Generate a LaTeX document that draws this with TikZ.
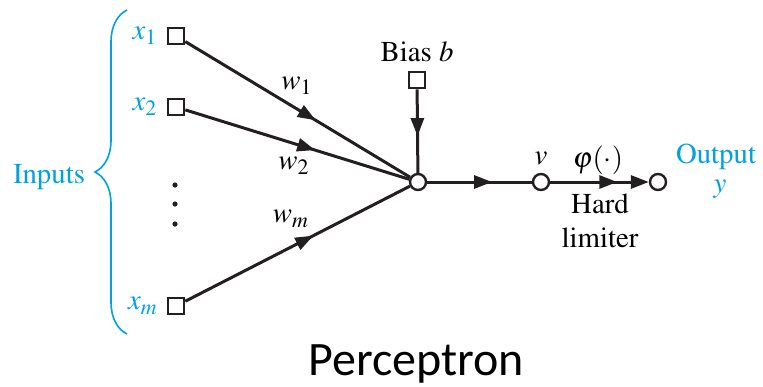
\documentclass[tikz,border=0pt]{standalone}
\usepackage{mathptmx}
\usepackage{fontspec}
\newfontfamily\calibri{Carlito}
\newcommand{\timesf}{\fontencoding{T1}\fontfamily{ptm}\selectfont}
\usetikzlibrary{arrows.meta,decorations.markings,decorations.pathreplacing}
\definecolor{inblue}{RGB}{0,160,227}
\definecolor{ink}{RGB}{35,31,32}

\tikzset{
  insq/.style={draw=ink, line width=1.3pt, fill=white, minimum size=8pt, inner sep=0pt},
  junc/.style={circle, draw=ink, line width=1.2pt, fill=white, minimum size=8pt, inner sep=0pt},
  link/.style={color=ink, line width=1.5pt},
  midarrow/.style={postaction={decorate}, decoration={markings,
      mark=at position #1 with {\arrow{Triangle[length=9pt,width=6.5pt]}}}},
}

\begin{document}
\begin{tikzpicture}[x=0.5pt, y=-0.5pt, font=\timesf\fontsize{14.4}{17}\selectfont]
    \useasboundingbox (0,0) rectangle (763,386);

    % inputs
    \node[insq] (x1) at (176,36) {};
    \node[insq] (x2) at (176,107) {};
    \node[insq] (xm) at (176,306) {};
    \foreach \y [count=\i] in {185,204,224} {
        \node[circle, fill=ink, inner sep=0pt, minimum size=2.6pt] (dot\i) at (175,\y) {};
    }
    \node[text=inblue] (lx1) at (145,36) {$x_1$};
    \node[text=inblue] (lx2) at (145,107) {$x_2$};
    \node[text=inblue] (lxm) at (143,306) {$x_m$};

    % brace
    \draw[inblue, line width=0.8pt, decorate, decoration={brace, amplitude=16pt}] (127,334) -- (127,10);
    \node[text=inblue] (inputs) at (49,177) {Inputs};

    % neuron
    \node[junc] (sum) at (418,182) {};
    \node[insq] (bias) at (417,80) {};
    \node (lbias) at (417,52) {Bias $b$};
    \node[junc] (v) at (541,182) {};
    \node[junc] (out) at (658,182) {};

    % weights
    \draw[link, midarrow=0.58] (x1) -- (sum);
    \draw[link, midarrow=0.58] (x2) -- (sum);
    \draw[link, midarrow=0.57] (xm) -- (sum);
    \draw[link, midarrow=0.56] (bias) -- (sum);
    \node (w1) at (297,86) {$w_1$};
    \node (w2) at (294,166) {$w_2$};
    \node (wm) at (291,219) {$w_m$};

    % output
    \draw[link, midarrow=0.62] (sum) -- (v);
    \draw[link, midarrow=0.68, -{Triangle[length=9pt,width=6.5pt]}] (v) -- (out);
    \node (lv) at (541,158) {$v$};
    \node (phi) at (598,160) {$\varphi(\cdot)$};
    \node[align=center, font=\timesf\fontsize{14.4}{17}\selectfont] (hard) at (600,221) {Hard\\limiter};
    \node[text=inblue] (lout) at (716,157) {Output};
    \node[text=inblue] (ly) at (720,189) {$y$};

    \node[font=\calibri\fontsize{24}{28}\selectfont, anchor=base] (title) at (416,375) {Perceptron};
\end{tikzpicture}
\end{document}
